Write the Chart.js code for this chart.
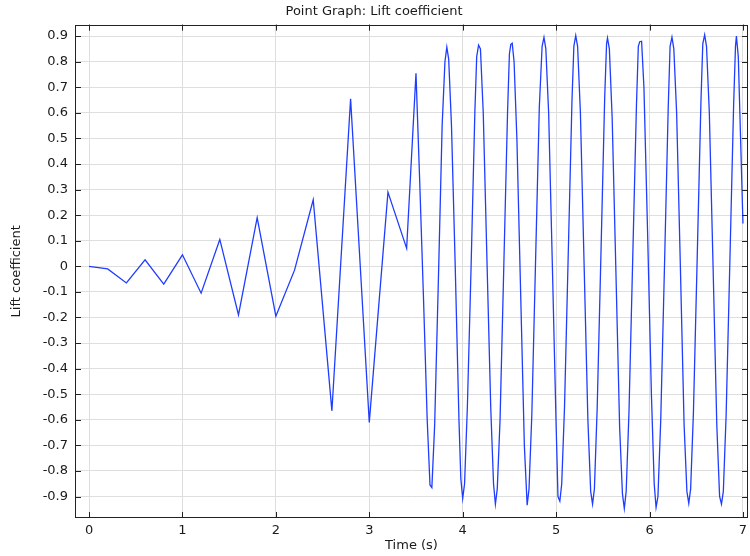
<!DOCTYPE html>
<html>
<head>
<meta charset="utf-8">
<script src="https://cdn.jsdelivr.net/npm/chart.js@4.4.1/dist/chart.umd.min.js"></script>
<style>
  html, body { margin: 0; padding: 0; background: #fff; }
  #wrap { width: 750px; height: 556px; }
</style>
</head>
<body>
<div id="wrap"><canvas id="grafico" width="750" height="556"></canvas></div>
<script>
// Dati
const tempi = [
  0, 0.2, 0.4, 0.6, 0.8, 1.0, 1.2, 1.4, 1.6, 1.8, 2.0, 2.2, 2.4, 2.6, 2.8, 3.0, 3.2, 3.4,
  3.50, 3.54, 3.58, 3.62, 3.65, 3.67, 3.70, 3.74, 3.78, 3.81, 3.83, 3.85,
  3.88, 3.92, 3.96, 3.98, 4.00, 4.02, 4.05, 4.09, 4.13, 4.15, 4.17, 4.19,
  4.22, 4.26, 4.30, 4.33, 4.35, 4.37, 4.40, 4.44, 4.48, 4.50, 4.515, 4.53,
  4.55, 4.58, 4.62, 4.66, 4.69, 4.71, 4.74, 4.78, 4.82, 4.85, 4.87, 4.89,
  4.92, 4.96, 5.00, 5.02, 5.04, 5.06, 5.09, 5.13, 5.17, 5.19, 5.21, 5.23,
  5.26, 5.30, 5.34, 5.37, 5.39, 5.41, 5.44, 5.48, 5.52, 5.54, 5.55, 5.57,
  5.60, 5.64, 5.68, 5.71, 5.73, 5.75, 5.78, 5.82, 5.86, 5.88, 5.895, 5.915,
  5.94, 5.98, 6.02, 6.05, 6.07, 6.09, 6.12, 6.16, 6.20, 6.22, 6.24, 6.26,
  6.29, 6.33, 6.37, 6.40, 6.42, 6.44, 6.47, 6.51, 6.55, 6.57, 6.59, 6.61,
  6.64, 6.68, 6.72, 6.75, 6.77, 6.79, 6.82, 6.86, 6.90, 6.92, 6.93, 6.95,
  7.00
];

const coeffPortanza = [
  0, -0.01, -0.065, 0.025, -0.07, 0.045, -0.105, 0.105, -0.19, 0.19, -0.195, -0.015, 0.26, -0.565, 0.655, -0.61, 0.29, 0.07,
  0.755, 0.33, -0.12, -0.6, -0.855, -0.865, -0.62, -0.05, 0.55, 0.80, 0.857, 0.81,
  0.55, 0.0, -0.6, -0.83, -0.908, -0.85, -0.55, 0.0, 0.6, 0.82, 0.865, 0.85,
  0.6, 0.02, -0.55, -0.85, -0.93, -0.87, -0.6, 0.0, 0.6, 0.83, 0.868, 0.872,
  0.8, 0.5, -0.1, -0.7, -0.934, -0.87, -0.58, 0.02, 0.62, 0.86, 0.895, 0.85,
  0.6, 0.0, -0.62, -0.9, -0.918, -0.85, -0.55, 0.05, 0.65, 0.86, 0.902, 0.86,
  0.6, 0.0, -0.6, -0.88, -0.93, -0.87, -0.55, 0.05, 0.66, 0.87, 0.893, 0.85,
  0.58, -0.02, -0.63, -0.89, -0.947, -0.88, -0.57, 0.03, 0.63, 0.86, 0.878, 0.88,
  0.7, 0.12, -0.5, -0.85, -0.943, -0.9, -0.6, 0.0, 0.62, 0.86, 0.896, 0.85,
  0.6, 0.0, -0.62, -0.88, -0.927, -0.87, -0.57, 0.03, 0.64, 0.87, 0.905, 0.86,
  0.6, 0.0, -0.62, -0.9, -0.93, -0.88, -0.58, 0.02, 0.63, 0.86, 0.90, 0.82,
  0.167
];

const tickTempo = [0, 1, 2, 3, 4, 5, 6, 7];
const tickCoeff = [-0.9, -0.8, -0.7, -0.6, -0.5, -0.4, -0.3, -0.2, -0.1, 0, 0.1, 0.2, 0.3, 0.4, 0.5, 0.6, 0.7, 0.8, 0.9];

const FONT = 'DejaVu Sans';
const TESTO = '#1a1a1a';

// Cornice + tacche interne (stile COMSOL)
const cornice = {
  id: 'cornice',
  afterDatasetsDraw(chart) {
    const { ctx, chartArea: a, scales } = chart;
    ctx.save();
    ctx.strokeStyle = '#222';
    ctx.lineWidth = 1;
    ctx.strokeRect(Math.round(a.left) + 0.5, Math.round(a.top) + 0.5,
      Math.round(a.right - a.left) - 1, Math.round(a.bottom - a.top) - 1);
    ctx.beginPath();
    tickTempo.forEach(v => {
      const x = Math.round(scales.x.getPixelForValue(v)) + 0.5;
      ctx.moveTo(x, a.bottom); ctx.lineTo(x, a.bottom - 6);
      ctx.moveTo(x, a.top); ctx.lineTo(x, a.top + 6);
    });
    tickCoeff.forEach(v => {
      const y = Math.round(scales.y.getPixelForValue(v)) + 0.5;
      ctx.moveTo(a.left, y); ctx.lineTo(a.left + 6, y);
      ctx.moveTo(a.right, y); ctx.lineTo(a.right - 6, y);
    });
    ctx.stroke();
    ctx.restore();
  }
};

const punti = tempi.map((t, i) => ({ x: t, y: coeffPortanza[i] }));

new Chart(document.getElementById('grafico').getContext('2d'), {
  type: 'scatter',
  data: {
    datasets: [{
      label: 'Lift coefficient',
      data: punti,
      showLine: true,
      borderColor: '#1f3dff',
      borderWidth: 1.3,
      pointRadius: 0,
      tension: 0,
      fill: false
    }]
  },
  options: {
    responsive: false,
    animation: false,
    layout: { padding: { left: 0, right: 2, top: 0, bottom: 0 } },
    plugins: {
      legend: { display: false },
      tooltip: { enabled: false },
      title: {
        display: true,
        text: 'Point Graph: Lift coefficient',
        color: TESTO,
        font: { family: FONT, size: 13, weight: 'normal' },
        padding: { top: 4, bottom: 5 }
      }
    },
    scales: {
      x: {
        type: 'linear',
        min: -0.15,
        max: 7.054,
        afterBuildTicks: scale => { scale.ticks = tickTempo.map(v => ({ value: v })); },
        afterFit: scale => {
          scale.height = 38;
          scale.paddingLeft = 0;
          scale.paddingRight = 0;
        },
        grid: { color: '#dedede', drawTicks: false },
        border: { display: false },
        ticks: {
          color: TESTO,
          font: { family: FONT, size: 13 },
          padding: 5,
          maxRotation: 0,
          callback: v => String(v)
        },
        title: {
          display: true,
          text: 'Time (s)',
          color: TESTO,
          font: { family: FONT, size: 13 },
          padding: { top: 0, bottom: 3 }
        }
      },
      y: {
        type: 'linear',
        min: -0.984,
        max: 0.945,
        afterBuildTicks: scale => { scale.ticks = tickCoeff.map(v => ({ value: v })); },
        afterFit: scale => {
          scale.width = 75;
          scale.paddingTop = 0;
          scale.paddingBottom = 0;
        },
        grid: { color: '#dedede', drawTicks: false },
        border: { display: false },
        ticks: {
          color: TESTO,
          font: { family: FONT, size: 13 },
          padding: 7,
          callback: v => String(Math.round(v * 10) / 10)
        },
        title: {
          display: true,
          text: 'Lift coefficient',
          color: TESTO,
          font: { family: FONT, size: 13 },
          padding: { top: 9, bottom: 0 }
        }
      }
    }
  },
  plugins: [cornice]
});
</script>
</body>
</html>
